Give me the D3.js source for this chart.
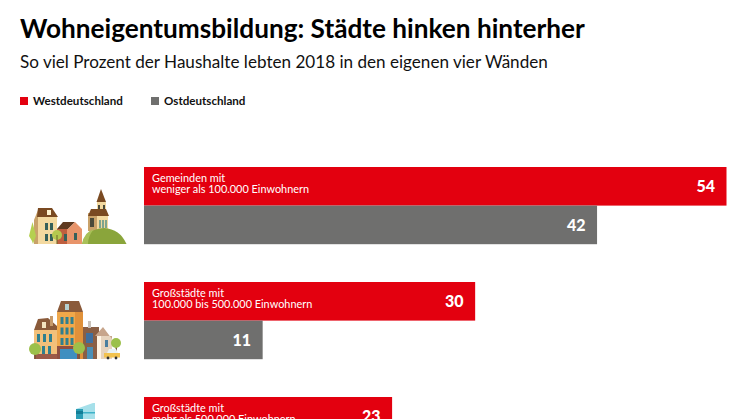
<!DOCTYPE html>
<html>
<head>
<meta charset="utf-8">
<style>
  html, body { margin: 0; padding: 0; background: #fff; }
  svg { display: block; }
  text { font-family: Lato, sans-serif; }
</style>
<script src="https://cdn.jsdelivr.net/npm/d3@7"></script>
</head>
<body>
<svg id="chart" width="746" height="419"></svg>
<script>
const title = 'Wohneigentumsbildung: Städte hinken hinterher';
const subtitle = 'So viel Prozent der Haushalte lebten 2018 in den eigenen vier Wänden';
const seriesNames = ['Westdeutschland', 'Ostdeutschland'];
const seriesColors = ['#e3000f', '#6f6f6e'];
const categories = [
  ['Gemeinden mit', 'weniger als 100.000 Einwohnern'],
  ['Großstädte mit', '100.000 bis 500.000 Einwohnern'],
  ['Großstädte mit', 'mehr als 500.000 Einwohnern']
];
// bar lengths, the printed labels are rounded
const westValues = [54, 30.7, 23];
const eastValues = [42, 11, 15];
const westLabels = ['54', '30', '23'];
const eastLabels = ['42', '11', '15'];

const svg = d3.select('#chart');

const x = d3.scaleLinear().domain([0, 54]).range([144, 726.5]);
const barHeight = 38.6;
const groupStep = 115;
const groupY = (i) => 167 + i * groupStep;

svg.append('text').attr('x', 20).attr('y', 38)
  .attr('font-size', 26.2).attr('font-weight', 700).attr('fill', '#000')
  .text(title);
svg.append('text').attr('x', 20).attr('y', 68)
  .attr('font-size', 17.1).attr('fill', '#111')
  .text(subtitle);

// legend
const legend = svg.append('g').selectAll('g').data(seriesNames).join('g')
  .attr('transform', (d, i) => `translate(${[20, 151][i]},97)`);
legend.append('rect').attr('width', 8).attr('height', 8).attr('fill', (d, i) => seriesColors[i]);
legend.append('text').attr('x', 13).attr('y', 8)
  .attr('font-size', 11.6).attr('font-weight', 700).attr('fill', '#111')
  .text((d) => d);

// bars
const groups = svg.append('g').selectAll('g').data(categories).join('g')
  .attr('transform', (d, i) => `translate(0,${groupY(i)})`);

groups.append('rect').attr('x', x(0)).attr('y', 0)
  .attr('width', (d, i) => x(westValues[i]) - x(0)).attr('height', barHeight)
  .attr('fill', seriesColors[0]);
groups.append('rect').attr('x', x(0)).attr('y', barHeight)
  .attr('width', (d, i) => x(eastValues[i]) - x(0)).attr('height', barHeight)
  .attr('fill', seriesColors[1]);

groups.append('text').attr('x', (d, i) => x(westValues[i]) - 11.5).attr('y', 25)
  .attr('text-anchor', 'end').attr('font-size', 16).attr('font-weight', 900).attr('fill', '#fff')
  .text((d, i) => westLabels[i]);
groups.append('text').attr('x', (d, i) => x(eastValues[i]) - 11.5).attr('y', barHeight + 25)
  .attr('text-anchor', 'end').attr('font-size', 16).attr('font-weight', 900).attr('fill', '#fff')
  .text((d, i) => eastLabels[i]);

groups.selectAll('.cat').data((d) => d).join('text')
  .attr('class', 'cat')
  .attr('x', 152).attr('y', (d, i) => 14.5 + i * 11.5)
  .attr('font-size', 10.9).attr('fill', '#fff')
  .text((d) => d);

// icons, plain shapes
function rect(g, x0, y0, w, h, fill) {
  g.append('rect').attr('x', x0).attr('y', y0).attr('width', w).attr('height', h).attr('fill', fill);
}
function poly(g, pts, fill) {
  g.append('polygon').attr('points', pts).attr('fill', fill);
}

const village = svg.append('g');
// church
rect(village, 88, 213, 20, 18, '#f3d9a0');
rect(village, 88, 213, 9, 18, '#c9a26a');
rect(village, 97, 202, 9, 12, '#f3d9a0');
poly(village, '96.5,202 101,189 106,202', '#7a4a22');
poly(village, '91,209 106,209 109,216 88,216', '#7a4a22');
rect(village, 98, 205, 2, 4, '#4a4a3a');
rect(village, 103, 205, 2, 4, '#4a4a3a');
rect(village, 90, 218, 4, 9, '#4a4a3a');
rect(village, 99, 220, 2, 8, '#7fa58e');
rect(village, 102, 220, 2, 8, '#7fa58e');
rect(village, 105, 220, 2, 8, '#7fa58e');
// hill
village.append('path').attr('d', 'M82,244 Q86,229 104,228 Q120,229 126.5,244 Z').attr('fill', '#8aa53b');
village.append('path').attr('d', 'M82,244 Q84,232 94,229 Q88,236 88,244 Z').attr('fill', '#a9c058');
// left house
rect(village, 38, 216, 19, 28, '#f3d9a0');
poly(village, '34,244 34,220 38,210 38,244', '#c9a26a');
poly(village, '38,208 52,208 58,217 37,217', '#7a4a22');
rect(village, 47, 210, 4, 5, '#fff3d0');
rect(village, 45, 223, 3, 7, '#35605a');
rect(village, 50, 223, 3, 7, '#35605a');
rect(village, 45, 234, 3, 7, '#35605a');
rect(village, 50, 234, 3, 7, '#35605a');
// red house
rect(village, 57, 229, 10, 15, '#bf5f3f');
rect(village, 67, 229, 15, 15, '#e8946a');
poly(village, '57,229 63,222 75,222 68,229', '#5f3a20');
poly(village, '68,229 75,222 82,229', '#e8946a');
rect(village, 64, 234, 3, 7, '#35605a');
rect(village, 74, 233, 3, 7, '#35605a');
// trees
village.append('circle').attr('cx', 57).attr('cy', 235).attr('r', 5).attr('fill', '#b5c94f');
rect(village, 56.5, 235, 1, 9, '#6a6a2a');
poly(village, '32.5,222 29,236 32,241 33,244 34,241 36,236', '#b5d04f');

const town = svg.append('g');
// left building
rect(town, 34, 330, 23, 29, '#f3c07a');
poly(town, '34,330 38,319 48,318 57,326 57,330', '#8a5a3a');
rect(town, 50, 316, 3, 10, '#c79a6a');
rect(town, 42, 322, 4, 6, '#f3e3c0');
[0, 1, 2].forEach((c) => rect(town, 37 + c * 6, 334, 3, 8, '#2f7f8f'));
rect(town, 42, 346, 3, 8, '#2f7f8f');
rect(town, 48, 346, 3, 8, '#2f7f8f');
rect(town, 34, 354, 23, 5, '#9c5a48');
// right buildings
rect(town, 79, 327, 20, 32, '#8a5f45');
rect(town, 86, 333, 7, 10, '#3f6f9f');
rect(town, 87, 347, 6, 12, '#4a8fb5');
rect(town, 88, 321, 3, 7, '#c9c2ba');
rect(town, 97, 336, 15, 23, '#e6d3bd');
rect(town, 97, 336, 4, 23, '#fff4e4');
poly(town, '95,336 103,327 112,339 112,336', '#c7a58b');
rect(town, 105, 340, 3, 7, '#4a7f9f');
// centre building
rect(town, 57, 312, 26, 47, '#f0a84a');
rect(town, 75, 312, 8, 47, '#e0913a');
poly(town, '57,312 61,301 79,301 83,312', '#8a5a3a');
rect(town, 65, 304, 4, 6, '#b5d0d0');
[0, 1, 2].forEach((c) => [0, 1, 2].forEach((r) => rect(town, 60.5 + c * 5, 317 + r * 10.5, 3, 7, '#2f7f8f')));
rect(town, 57, 346, 23, 13, '#8f4f42');
rect(town, 60, 349, 17, 10, '#3f8fc0');
// trees and car
[[35, 349, 6], [79, 348, 6], [116, 343, 5]].forEach((c) => {
  rect(town, c[0] - 0.5, c[1], 1.5, 359 - c[1], '#7a5a3a');
  town.append('circle').attr('cx', c[0]).attr('cy', c[1]).attr('r', c[2]).attr('fill', '#9cc04a');
});
rect(town, 104, 353, 16, 4.5, '#f2c24e');
poly(town, '107,353 109,349 116,349 118,353', '#e8f2f4');
town.append('circle').attr('cx', 108).attr('cy', 358).attr('r', 1.4).attr('fill', '#333');
town.append('circle').attr('cx', 116).attr('cy', 358).attr('r', 1.4).attr('fill', '#333');

const tower = svg.append('g');
poly(tower, '76,409 93,403 95,403 95,419 76,419', '#a6e0ea');
rect(tower, 76, 409, 7, 10, '#2a9db5');
rect(tower, 76, 411, 7, 3, '#137d96');
rect(tower, 83, 412, 12, 1.5, '#3fb2c8');
</script>
</body>
</html>
